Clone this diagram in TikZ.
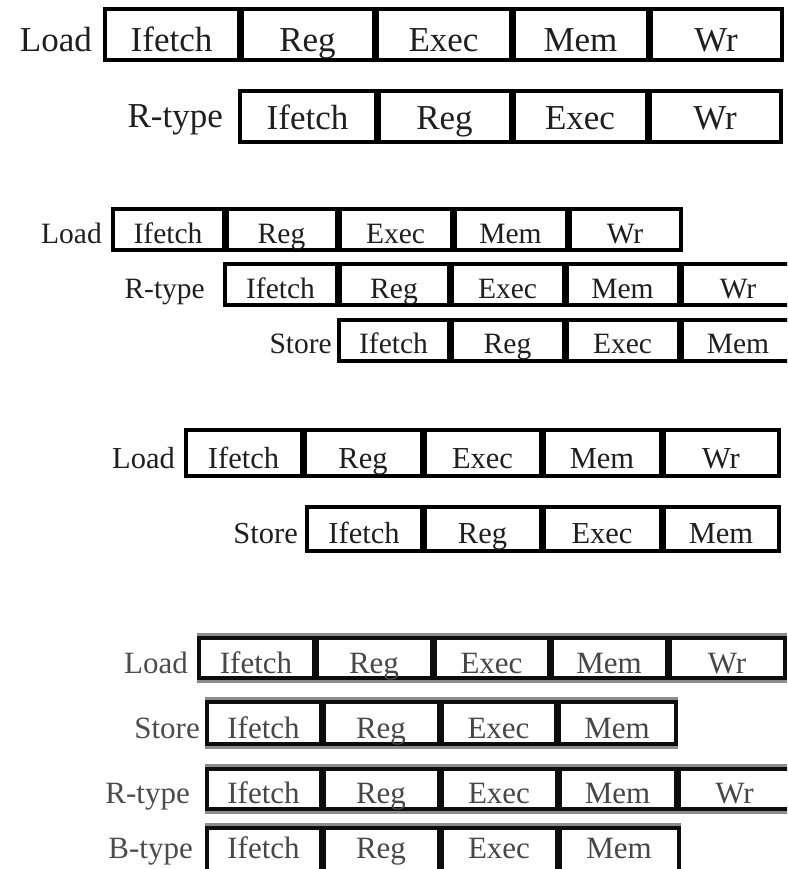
\documentclass[tikz,border=0pt]{standalone}
\usepackage{fontspec}
\setmainfont{Liberation Serif}

% one pipeline row: #1 name, #2 top, #3 bottom, #4 baseline, #5 style, #6 cells x0/x1/text/index
\newcommand\stagerow[6]{%
  \foreach \xa/\xb/\txt/\i in {#6} {%
    \pgfmathsetmacro\cellcx{(\xa+\xb)/2}%
    \pgfmathsetmacro\cellcy{(#2+#3)/2}%
    \pgfmathsetmacro\cellw{\xb-\xa-3}%
    \pgfmathsetmacro\cellh{#3-#2-4}%
    \pgfmathsetmacro\cellth{2*(#4-\cellcy)}%
    \node[#5, minimum width=\cellw pt, minimum height=\cellh pt,
          text height=\cellth pt, text depth=0pt] (#1-\i) at (\cellcx,\cellcy) {\txt};
  }%
}

\tikzset{
  cellbox/.style={draw=black, line width=4pt, inner sep=0pt, text=black!88},
  fa/.style={cellbox, font=\fontsize{35}{40}\selectfont},
  fb/.style={cellbox, font=\fontsize{29.5}{34}\selectfont},
  fc/.style={cellbox, font=\fontsize{30.5}{35}\selectfont},
  fd/.style={cellbox, draw=black!95, text=black!72, font=\fontsize{31}{36}\selectfont},
  lab/.style={inner sep=0pt, anchor=base east, text=black!88},
  laba/.style={lab, font=\fontsize{35}{40}\selectfont},
  labb/.style={lab, font=\fontsize{29.5}{34}\selectfont},
  labc/.style={lab, font=\fontsize{30.5}{35}\selectfont},
  labd/.style={lab, text=black!70, font=\fontsize{31}{36}\selectfont},
  halo/.style={draw=black!45, line width=3pt},
}

\begin{document}
\begin{tikzpicture}[x=1pt, y=-1pt]
\useasboundingbox (0,0) rectangle (787,869);
\clip (0,0) rectangle (787,869);

% --- Load followed by R-type
\node[laba] (g1-load) at (92,52) {Load};
\stagerow{g1a}{7}{62}{52}{fa}{103/240/Ifetch/1, 240/375/Reg/2, 375/512/Exec/3, 512/649/Mem/4, 649/783/Wr/5}
\node[laba] (g1-rtype) at (223,128) {R-type};
\stagerow{g1b}{89}{144}{130}{fa}{238/377/Ifetch/1, 377/512/Reg/2, 512/648/Exec/3, 648/782/Wr/4}

% --- Load, R-type, Store overlapped
\node[labb] (g2-load) at (102,243) {Load};
\stagerow{g2a}{207}{252}{243}{fb}{111/225/Ifetch/1, 225/338/Reg/2, 338/453/Exec/3, 453/568/Mem/4, 568/682/Wr/5}
\node[labb] (g2-rtype) at (205,298) {R-type};
\stagerow{g2b}{262}{307}{298}{fb}{223/338/Ifetch/1, 338/450/Reg/2, 450/565/Exec/3, 565/680/Mem/4, 680/796/Wr/5}
\node[labb] (g2-store) at (332,353) {Store};
\stagerow{g2c}{318}{363}{353}{fb}{337/450/Ifetch/1, 450/565/Reg/2, 565/680/Exec/3, 680/796/Mem/4}

% --- Load followed by Store
\node[labc] (g3-load) at (175,468) {Load};
\stagerow{g3a}{428}{478}{468}{fc}{184/303/Ifetch/1, 303/423/Reg/2, 423/542/Exec/3, 542/662/Mem/4, 662/780/Wr/5}
\node[labc] (g3-store) at (298,543) {Store};
\stagerow{g3b}{505}{553}{543}{fc}{305/423/Ifetch/1, 423/542/Reg/2, 542/662/Exec/3, 662/780/Mem/4}

% --- four instruction classes, aligned
\node[labd] (g4-load) at (188,673) {Load};
\stagerow{g4a}{636}{680}{673}{fd}{197/315/Ifetch/1, 315/433/Reg/2, 433/550/Exec/3, 550/668/Mem/4, 668/786/Wr/5}
\node[labd] (g4-store) at (200,738) {Store};
\stagerow{g4b}{700}{746}{738}{fd}{205/322/Ifetch/1, 322/440/Reg/2, 440/557/Exec/3, 557/677/Mem/4}
\node[labd] (g4-rtype) at (190,803) {R-type};
\stagerow{g4c}{767}{811}{803}{fd}{205/322/Ifetch/1, 322/440/Reg/2, 440/558/Exec/3, 558/677/Mem/4, 677/792/Wr/5}
\node[labd] (g4-btype) at (193,858) {B-type};
\stagerow{g4d}{826}{890}{858}{fd}{205/322/Ifetch/1, 322/440/Reg/2, 440/558/Exec/3, 558/680/Mem/4}

% soft grey edges along the last group's rows
\foreach \r/\n in {g4a/5, g4b/4, g4c/5, g4d/4} {
  \draw[halo] ([yshift=1.5pt]\r-1.north west) -- ([yshift=1.5pt]\r-\n.north east);
}
\foreach \r/\n in {g4a/5, g4b/4, g4c/5} {
  \draw[halo] ([yshift=-1.5pt]\r-1.south west) -- ([yshift=-1.5pt]\r-\n.south east);
}
\end{tikzpicture}
\end{document}
